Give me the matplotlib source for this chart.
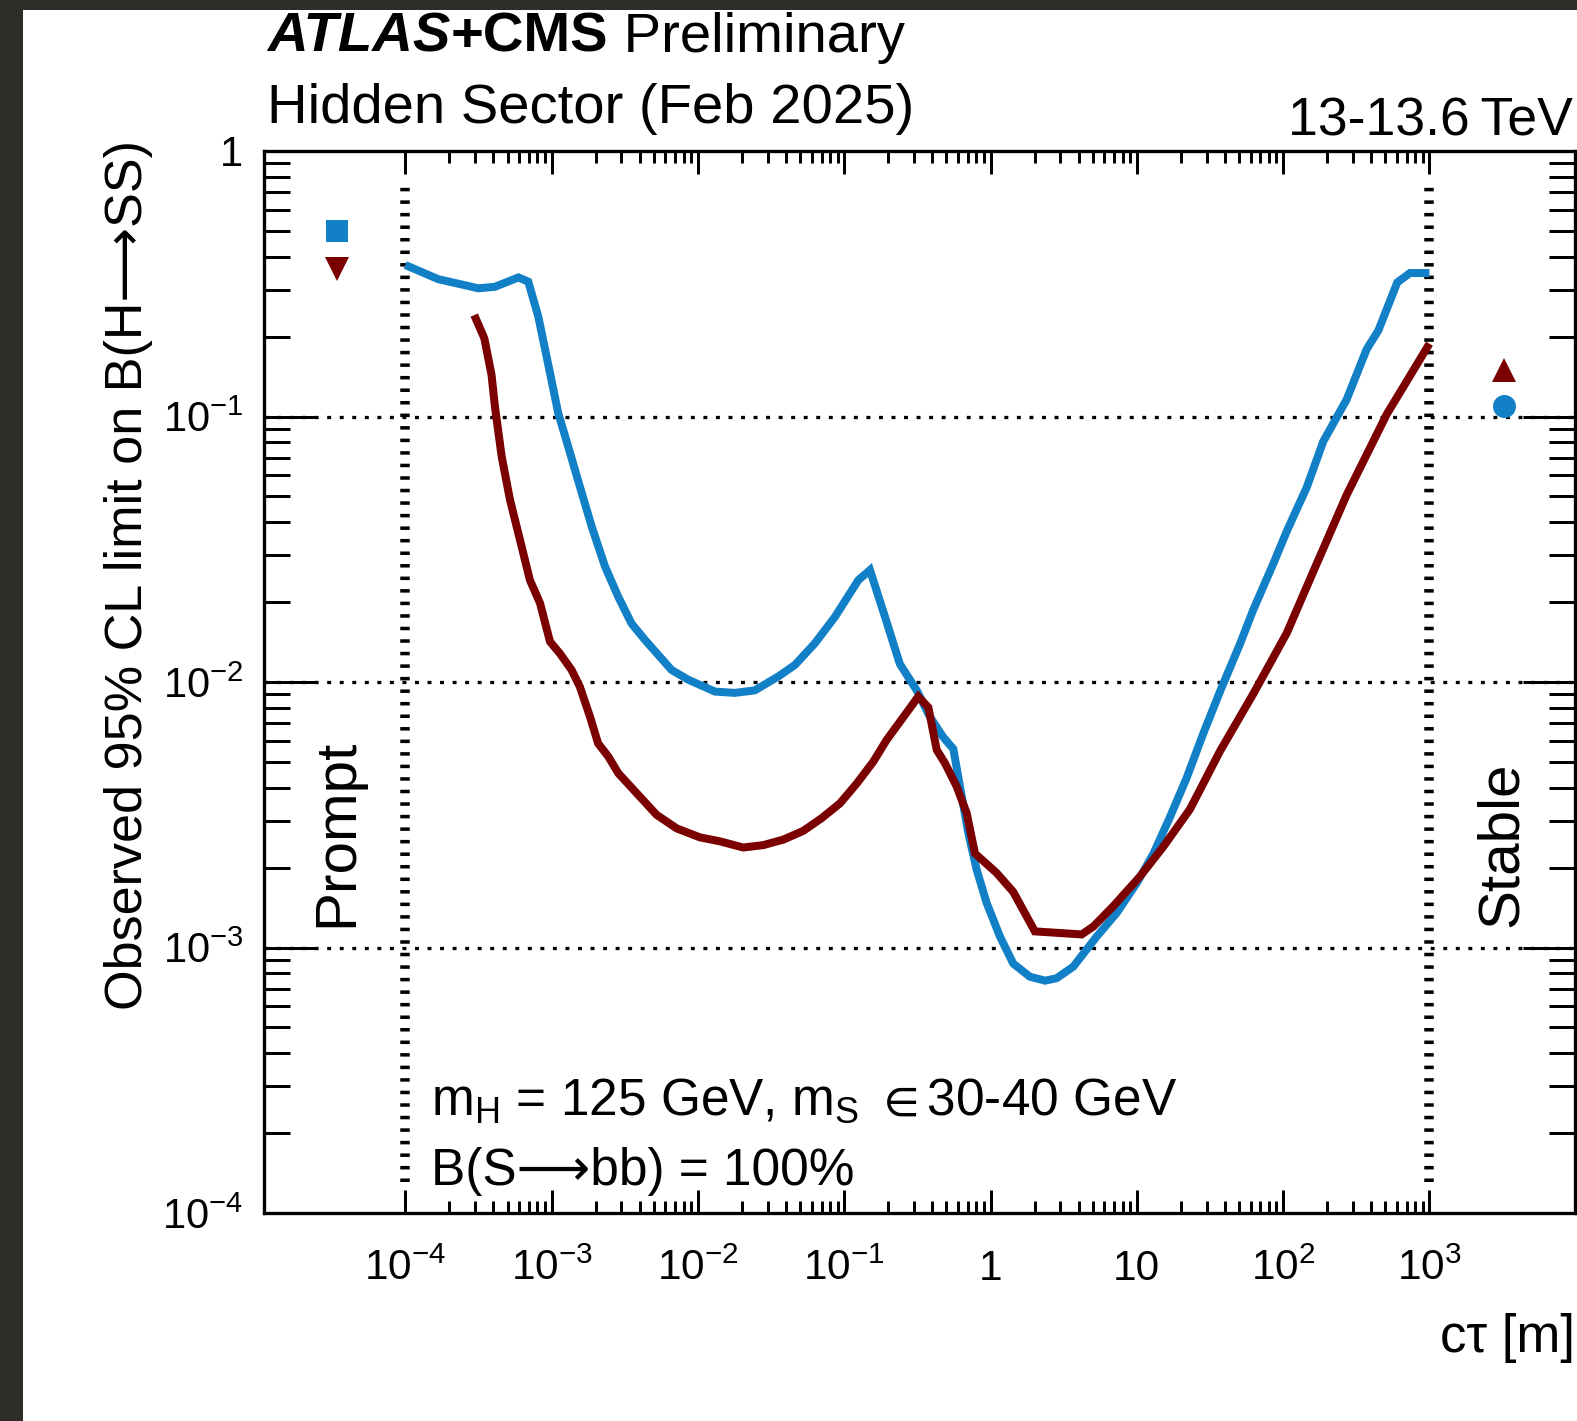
"""Observed limits on B(H->SS) versus proper decay length, two combinations."""

import matplotlib

matplotlib.use("Agg")
import matplotlib.pyplot as plt
from matplotlib.patches import Rectangle
from matplotlib.ticker import FixedFormatter, FixedLocator

plt.rcParams["font.family"] = ["Liberation Sans", "DejaVu Sans"]
plt.rcParams["mathtext.fontset"] = "custom"
plt.rcParams["mathtext.rm"] = "Liberation Sans"
plt.rcParams["mathtext.it"] = "Liberation Sans:italic"
plt.rcParams["mathtext.bf"] = "Liberation Sans:bold"
plt.rcParams["mathtext.default"] = "regular"

BLUE = "#1280c6"
DARK_RED = "#7b0000"
FRAME = "#2f2d29"

# c*tau [m] and observed 95% CL limit, first combination
ctau_blue = [1.0e-4, 1.68e-4, 3.16e-4, 4.1e-4, 5.93e-4, 6.93e-4, 8.11e-4, 9.75e-4,
             1.11e-3, 1.30e-3, 1.56e-3, 1.88e-3, 2.32e-3, 2.86e-3, 3.52e-3, 4.35e-3,
             6.61e-3, 8.59e-3, 1.31e-2, 1.79e-2, 2.45e-2, 3.55e-2, 4.61e-2, 6.31e-2,
             8.65e-2, 0.125, 0.150, 0.190, 0.240, 0.313, 0.385, 0.475, 0.557, 0.619,
             0.706, 0.805, 0.942, 1.16, 1.43, 1.86, 2.36, 2.83, 3.68, 5.32, 7.29, 10.0,
             13.0, 16.9, 21.9, 28.5, 37.1, 50.7, 62.5, 85.7, 106, 145, 188, 272, 372,
             448, 603, 736, 1000]
lim_blue = [0.372, 0.329, 0.304, 0.308, 0.334, 0.322, 0.238, 0.146, 0.103, 0.0769,
            0.0545, 0.0385, 0.0272, 0.0209, 0.0166, 0.0144, 0.0111, 0.0102, 0.0092,
            0.0091, 0.0093, 0.0105, 0.0116, 0.0140, 0.0176, 0.0242, 0.0264, 0.0176,
            0.0117, 0.0093, 0.0074, 0.0062, 0.0056, 0.00403, 0.00269, 0.00196, 0.00147,
            0.00110, 0.00087, 0.000776, 0.00075, 0.000766, 0.000847, 0.00110, 0.00135,
            0.00175, 0.00226, 0.00311, 0.00435, 0.00641, 0.00923, 0.0139, 0.0187,
            0.0279, 0.0370, 0.0541, 0.0805, 0.116, 0.179, 0.211, 0.320, 0.347, 0.347]

# second combination
ctau_red = [2.96e-4, 3.47e-4, 3.89e-4, 4.10e-4, 4.56e-4, 5.20e-4, 6.08e-4, 7.11e-4,
            8.34e-4, 9.75e-4, 1.14e-3, 1.37e-3, 1.56e-3, 1.83e-3, 2.08e-3, 2.44e-3,
            2.86e-3, 3.82e-3, 5.22e-3, 7.16e-3, 1.03e-2, 1.42e-2, 2.04e-2, 2.80e-2,
            3.84e-2, 5.25e-2, 7.01e-2, 9.35e-2, 0.122, 0.158, 0.195, 0.321, 0.376,
            0.429, 0.489, 0.587, 0.687, 0.783, 1.10, 1.43, 2.01, 4.20, 5.05, 6.90,
            10.5, 15.2, 23.1, 37.1, 62.5, 106, 161, 272, 511, 1000]
lim_red = [0.241, 0.197, 0.143, 0.109, 0.0706, 0.0485, 0.0343, 0.0242, 0.0198, 0.0142,
           0.0128, 0.0111, 0.0096, 0.0074, 0.00587, 0.00524, 0.00453, 0.00381, 0.00316,
           0.00281, 0.00260, 0.00251, 0.00238, 0.00243, 0.00255, 0.00275, 0.00307,
           0.00349, 0.00415, 0.00501, 0.00605, 0.00881, 0.00802, 0.00555, 0.00494,
           0.00404, 0.00321, 0.00226, 0.00191, 0.00162, 0.00115, 0.00112, 0.00120,
           0.00143, 0.00185, 0.00240, 0.00332, 0.00550, 0.00902, 0.0153, 0.0261,
           0.0507, 0.102, 0.188]

# single-point limits for the prompt and stable hypotheses
prompt_ctau = 3.4e-5
prompt_blue = 0.50
prompt_red = 0.36
stable_ctau = 3.24e3
stable_red = 0.150
stable_blue = 0.110

x_major = [1e-4, 1e-3, 1e-2, 1e-1, 1, 10, 1e2, 1e3]
x_labels = ["$10^{-4}$", "$10^{-3}$", "$10^{-2}$", "$10^{-1}$", "1", "10",
            "$10^{2}$", "$10^{3}$"]
y_major = [1e-4, 1e-3, 1e-2, 1e-1, 1]
y_labels = ["$10^{-4}$", "$10^{-3}$", "$10^{-2}$", "$10^{-1}$", "1"]
grid_levels = [1e-3, 1e-2, 1e-1]
boundaries = [1e-4, 1e3]

W, H, DPI = 1577, 1421, 100
ARROW = "\u27f6"


def px(v):
    """pixels -> points"""
    return v * 72.0 / DPI


def fig_xy(x, y):
    """pixel position measured from the top-left corner -> figure fraction"""
    return x / W, 1 - y / H


fig = plt.figure(figsize=(W / DPI, H / DPI), dpi=DPI)
ax = fig.add_axes([263.8 / W, 1 - 1213 / H, (1575 - 263.8) / W, (1213 - 151) / H])
ax.set_xscale("log")
ax.set_yscale("log")
ax.set_xlim(10 ** -4.967, 10 ** 3.995)
ax.set_ylim(1e-4, 1)

for s in ax.spines.values():
    s.set_linewidth(px(3.3))

# ticks only over the decades that carry labels
ax.xaxis.set_major_locator(FixedLocator(x_major))
ax.xaxis.set_minor_locator(FixedLocator(
    [m * 10.0 ** k for k in range(-4, 3) for m in range(2, 10)]))
ax.yaxis.set_major_locator(FixedLocator(y_major))
ax.yaxis.set_minor_locator(FixedLocator(
    [m * 10.0 ** k for k in range(-4, 0) for m in range(2, 10)]))
ax.yaxis.set_major_formatter(FixedFormatter(y_labels))
ax.yaxis.set_minor_formatter(FixedFormatter([]))

ax.tick_params(axis="x", which="both", direction="in", top=True, bottom=True,
               labelbottom=False, width=px(3))
ax.tick_params(axis="x", which="major", length=px(23))
ax.tick_params(axis="x", which="minor", length=px(12))
ax.tick_params(axis="y", which="both", direction="in", left=True, right=True,
               width=px(3), labelsize=30, pad=px(20.5))
ax.tick_params(axis="y", which="major", length=px(52))
ax.tick_params(axis="y", which="minor", length=px(26))

# x labels sit on a common baseline
for xv, lab in zip(x_major, x_labels):
    ax.annotate(lab, xy=(xv, 0), xycoords=("data", "axes fraction"),
                xytext=(0, -px(67)), textcoords="offset points",
                ha="center", va="baseline", fontsize=30.5)

for g in grid_levels:
    ax.axhline(g, color="black", lw=px(3.3), ls=(0, (1.2, 2.6)), zorder=1)
for b in boundaries:
    ax.axvline(b, ymin=0.029, ymax=0.971, color="black", lw=px(9.5),
               ls=(0, (0.37, 0.95)), zorder=1)

ax.plot(ctau_blue, lim_blue, color=BLUE, lw=px(8), solid_capstyle="butt",
        solid_joinstyle="miter", zorder=3)
ax.plot(ctau_red, lim_red, color=DARK_RED, lw=px(8), solid_capstyle="butt",
        solid_joinstyle="miter", zorder=3)

ax.plot([prompt_ctau], [prompt_blue], "s", color=BLUE, ms=px(23), mew=0)
ax.plot([prompt_ctau], [prompt_red], "v", color=DARK_RED, ms=px(24), mew=0)
ax.plot([stable_ctau], [stable_red], "^", color=DARK_RED, ms=px(24), mew=0)
ax.plot([stable_ctau], [stable_blue], "o", color=BLUE, ms=px(23), mew=0)

fig.text(*fig_xy(431, 1115), r"m$_{H}$ = 125 GeV, m$_{S}$ $\in$30-40 GeV",
         fontsize=37, va="baseline")
fig.text(*fig_xy(431, 1185), f"B(S{ARROW}bb) = 100%", fontsize=37,
         va="baseline")

# header
t1 = fig.text(*fig_xy(267, 52), "ATLAS", fontsize=40.5, fontweight="bold",
              fontstyle="italic", va="baseline")
t2 = ax.annotate("+CMS", xy=(1, 0), xycoords=t1, fontsize=40.5,
                 fontweight="bold", va="bottom", annotation_clip=False)
ax.annotate(" Preliminary", xy=(1, 0), xycoords=t2, fontsize=40.5, va="bottom",
            annotation_clip=False)
fig.text(*fig_xy(267, 123), "Hidden Sector (Feb 2025)", fontsize=40.5,
         va="baseline")
fig.text(*fig_xy(1573, 135), "13-13.6\u2009TeV", fontsize=38.5, ha="right",
         va="baseline")

fig.text(*fig_xy(142.5, 140), f"Observed 95% CL limit on B(H{ARROW}SS)",
         fontsize=37.5, rotation=90, rotation_mode="anchor", ha="right",
         va="baseline")
fig.text(*fig_xy(1575, 1352), "c\u03c4 [m]", fontsize=38, ha="right",
         va="baseline")
fig.text(*fig_xy(352, 927), "Prompt", fontsize=42, rotation=90,
         rotation_mode="anchor", ha="left", va="baseline")
fig.text(*fig_xy(1517, 927), "Stable", fontsize=42, rotation=90,
         rotation_mode="anchor", ha="left", va="baseline")

# dark border strips on the left and top edges
fig.add_artist(Rectangle((0, 0), 23 / W, 1, transform=fig.transFigure,
                         color=FRAME, lw=0, zorder=10))
fig.add_artist(Rectangle((0, 1 - 10 / H), 1, 10 / H, transform=fig.transFigure,
                         color=FRAME, lw=0, zorder=10))

fig.savefig("out.png", dpi=DPI, facecolor="white")
